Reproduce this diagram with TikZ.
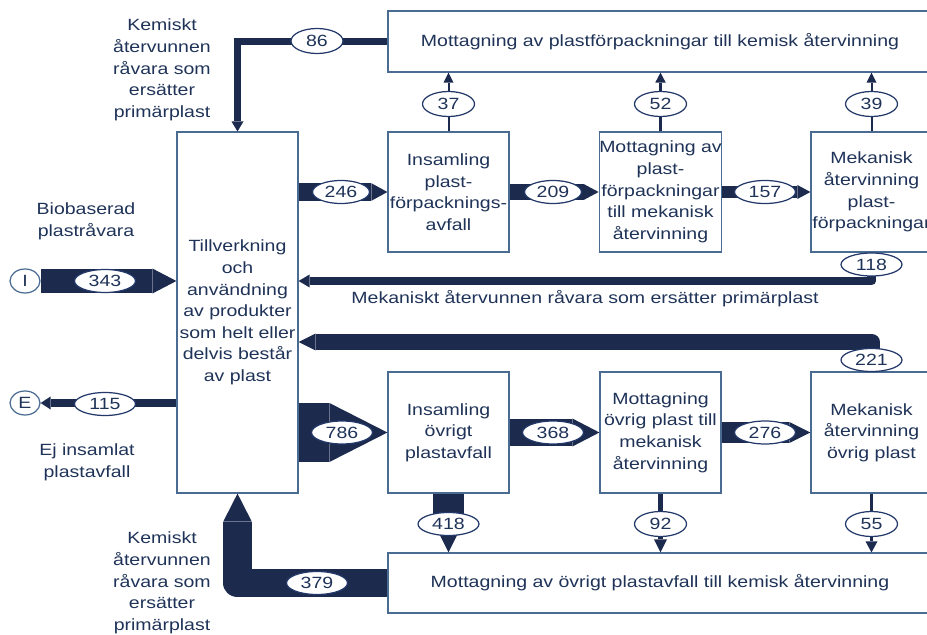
\documentclass[tikz,border=0pt]{standalone}
\usepackage{fontspec}
\setmainfont{Liberation Sans}[FakeStretch=1.2]
\usetikzlibrary{arrows.meta,shapes.geometric}
\definecolor{flowc}{HTML}{1C2A4E}
\definecolor{txtc}{HTML}{1F3358}
\definecolor{boxc}{HTML}{4A6B92}
\definecolor{ovalc}{HTML}{23396A}
\begin{document}
\begin{tikzpicture}[x=0.02cm,y=-0.02cm,
  every node/.style={font=\fontsize{9.25}{12.3}\selectfont, text=txtc},
  stage/.style={draw=boxc, line width=0.7pt, fill=white, align=center,
    inner sep=0pt, minimum width=2.42cm, minimum height=2.4cm},
  wide/.style={draw=boxc, line width=0.7pt, fill=white, inner sep=0pt,
    minimum width=10.88cm},
  term/.style={ellipse, draw=boxc, line width=0.7pt, fill=white, inner sep=0pt,
    minimum width=0.6cm, minimum height=0.48cm},
  lbl/.style={align=center, inner sep=0pt},
  valtwo/.style={ellipse, draw=ovalc, line width=0.7pt, fill=white, inner sep=0pt,
    minimum width=1.04cm, minimum height=0.5cm},
  valthree/.style={ellipse, draw=ovalc, line width=0.7pt, fill=white, inner sep=0pt,
    minimum width=1.22cm, minimum height=0.46cm},
  fl/.style n args={3}{draw=flowc, line width=#1,
    -{Triangle[length=#2, width=#3, line width=0pt]}},
]
\useasboundingbox (0,0) rectangle (927,635);

% process boxes
\node[stage, minimum height=7.22cm] (M) at (237.5,312.5)
  {Tillverkning\\och\\användning\\av produkter\\som helt eller\\delvis består\\av plast};
\node[stage] (A1) at (448.5,192) {Insamling\\plast-\\förpacknings-\\avfall};
\node[stage] (A2) at (660.5,192) {Mottagning av\\plast-\\förpackningar\\till mekanisk\\återvinning};
\node[stage] (A3) at (871.5,192) {Mekanisk\\återvinning\\plast-\\förpackningar};
\node[stage, minimum height=2.42cm] (B1) at (448.5,432.5) {Insamling\\övrigt\\plastavfall};
\node[stage, minimum height=2.42cm] (B2) at (660.5,432.5) {Mottagning\\övrig plast till\\mekanisk\\återvinning};
\node[stage, minimum height=2.42cm] (B3) at (871.5,432.5) {Mekanisk\\återvinning\\övrig plast};
\node[wide, minimum height=1.22cm] (T) at (660,41.5)
  {Mottagning av plastförpackningar till kemisk återvinning};
\node[wide, minimum height=1.2cm] (C) at (660,583)
  {Mottagning av övrigt plastavfall till kemisk återvinning};
\node[term] (I) at (25,281) {I};
\node[term] (E) at (25,403) {E};

% side labels
\node[lbl] (L1) at (162,70) {Kemiskt\\återvunnen\\råvara som\\ersätter\\primärplast};
\node[lbl] (L2) at (162,583) {Kemiskt\\återvunnen\\råvara som\\ersätter\\primärplast};
\node[lbl] (L3) at (86,221) {Biobaserad\\plastråvara};
\node[lbl] (L4) at (87,462) {Ej insamlat\\plastavfall};
\node[lbl] (L5) at (585,299) {Mekaniskt återvunnen råvara som ersätter primärplast};

% flows
\draw[fl={0.13cm}{0.2cm}{0.24cm}] (T.west) -| (M.north);
\draw[fl={0.5cm}{0.48cm}{0.5cm}] (I.east) -- (I.east -| M.west);
\draw[fl={0.16cm}{0.2cm}{0.26cm}] (E.east -| M.west) -- (E.east);
\draw[fl={0.35cm}{0.32cm}{0.35cm}] (A1.west -| M.east) -- (A1.west);
\draw[fl={0.32cm}{0.3cm}{0.32cm}] (A1.east) -- (A2.west);
\draw[fl={0.24cm}{0.26cm}{0.28cm}] (A2.east) -- (A3.west);
\draw[fl={0.04cm}{0.2cm}{0.2cm}] (A1.north) -- (A1.north |- T.south);
\draw[fl={0.06cm}{0.2cm}{0.21cm}] (A2.north) -- (A2.north |- T.south);
\draw[fl={0.04cm}{0.2cm}{0.2cm}] (A3.north) -- (A3.north |- T.south);
\draw[fl={0.18cm}{0.22cm}{0.26cm}, line join=round] (A3.south) |- (M.east |- 0,281);
\draw[fl={0.34cm}{0.34cm}{0.34cm}, line join=round] (B3.north) |- (M.east |- 0,342);
\draw[fl={1.18cm}{1.16cm}{1.18cm}] (B1.west -| M.east) -- (B1.west);
\draw[fl={0.56cm}{0.54cm}{0.56cm}] (B1.east) -- (B2.west);
\draw[fl={0.42cm}{0.42cm}{0.42cm}] (B2.east) -- (B3.west);
\draw[fl={0.62cm}{0.62cm}{0.62cm}] (B1.south) -- (B1.south |- C.north);
\draw[fl={0.11cm}{0.26cm}{0.26cm}] (B2.south) -- (B2.south |- C.north);
\draw[fl={0.07cm}{0.22cm}{0.24cm}] (B3.south) -- (B3.south |- C.north);
\draw[fl={0.57cm}{0.56cm}{0.57cm}, line join=round] (C.west) -| (M.south);

% flow values
\node[valtwo] (v86) at (317,41) {86};
\node[valtwo] (v37) at (448.5,104) {37};
\node[valtwo] (v52) at (660.5,104) {52};
\node[valtwo] (v39) at (871.5,104) {39};
\node[valthree, minimum width=1.14cm] (v246) at (341,192) {246};
\node[valthree, minimum width=1.14cm] (v209) at (553,192) {209};
\node[valthree] (v157) at (765,192) {157};
\node[valthree] (v343) at (105,281) {343};
\node[valthree] (v115) at (105,404) {115};
\node[valthree] (v118) at (871.5,264.5) {118};
\node[valthree] (v221) at (871.5,360) {221};
\node[valthree] (v786) at (342,432.5) {786};
\node[valthree] (v368) at (553,432.5) {368};
\node[valthree] (v276) at (765,432.5) {276};
\node[valthree] (v418) at (448.5,524) {418};
\node[valtwo] (v92) at (660.5,524) {92};
\node[valtwo] (v55) at (871.5,524) {55};
\node[valthree] (v379) at (317,583) {379};
\end{tikzpicture}
\end{document}
